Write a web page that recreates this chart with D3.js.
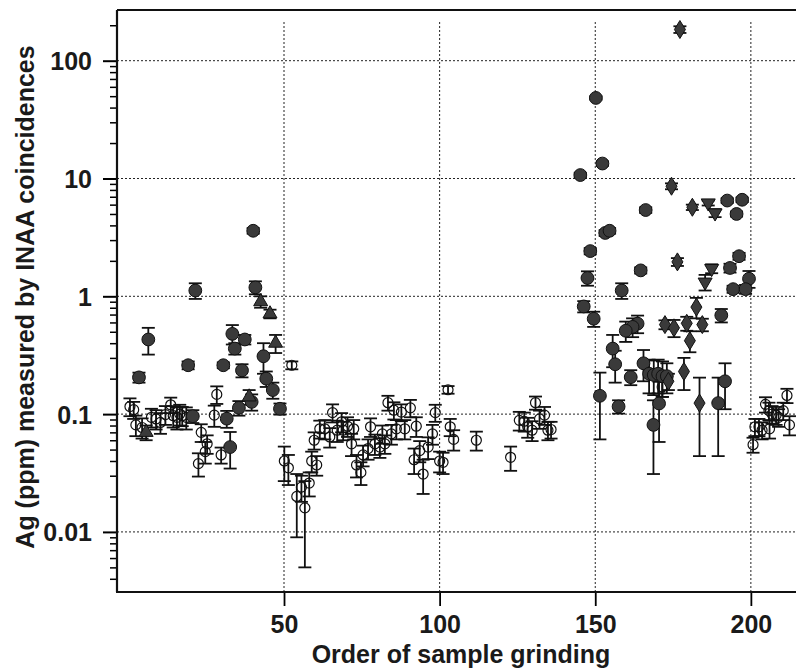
<!DOCTYPE html>
<html>
<head>
<meta charset="UTF-8">
<title>Ag measured by INAA coincidences</title>
<style>
  body { margin: 0; background: #fff; }
  svg text { font-family: "Liberation Sans", Arial, Helvetica, sans-serif; font-weight: bold; fill: #1a1a1a; }
  .grid line { stroke: #222; stroke-width: 1; stroke-dasharray: 2,2; }
  .frame line { stroke: #111; stroke-width: 2.2; }
  .bars line { stroke: #111; stroke-width: 1.8; }
</style>
</head>
<body>
<svg width="796" height="669"></svg>
<script src="https://d3js.org/d3.v7.min.js"></script>
<script>

// each point: [order of grinding, Ag ppm, 1 sigma error ppm]
var openCircles = [
  [0.5, 0.116, 0.02], [1.7, 0.109, 0.018], [2.4, 0.081, 0.016], [4.4, 0.077, 0.015],
  [7.4, 0.094, 0.017], [8.9, 0.091, 0.017], [10.3, 0.085, 0.017], [11.9, 0.099, 0.018],
  [13.6, 0.12, 0.018], [14.4, 0.097, 0.02], [15.6, 0.094, 0.02], [16.5, 0.1, 0.02],
  [17.3, 0.097, 0.018], [18.6, 0.094, 0.02], [23.4, 0.07, 0.012], [25.3, 0.056, 0.01],
  [24.7, 0.048, 0.01], [22.5, 0.038, 0.0085], [28.4, 0.147, 0.025], [27.6, 0.098, 0.02],
  [29.8, 0.045, 0.007], [52.5, 0.26, 0.02], [102.7, 0.161, 0.012],
  [50.1, 0.040, 0.013], [51.4, 0.035, 0.01], [54.1, 0.020, 0.011], [55.6, 0.024, 0.006],
  [56.7, 0.016, 0.011], [58.1, 0.026, 0.006], [58.9, 0.040, 0.008], [60.5, 0.037, 0.007],
  [59.7, 0.060, 0.01], [61.5, 0.075, 0.013], [63.1, 0.075, 0.014], [65.6, 0.103, 0.018],
  [64.7, 0.064, 0.012], [67.1, 0.073, 0.015], [68.5, 0.086, 0.016], [69.0, 0.073, 0.013],
  [70.4, 0.079, 0.015], [71.7, 0.056, 0.012], [72.4, 0.075, 0.014], [73.3, 0.037, 0.008],
  [74.7, 0.032, 0.007], [75.4, 0.045, 0.009], [77.0, 0.051, 0.01], [77.8, 0.078, 0.014],
  [79.2, 0.056, 0.011], [80.8, 0.0525, 0.01], [81.6, 0.068, 0.012], [82.4, 0.056, 0.01],
  [83.4, 0.125, 0.018], [84.5, 0.068, 0.013], [85.3, 0.108, 0.018], [86.1, 0.075, 0.014],
  [87.7, 0.104, 0.017], [88.8, 0.075, 0.014], [90.6, 0.113, 0.019], [92.5, 0.079, 0.015],
  [91.8, 0.041, 0.01], [93.6, 0.049, 0.01], [94.7, 0.031, 0.01], [96.3, 0.0525, 0.011],
  [97.7, 0.068, 0.013], [98.6, 0.103, 0.017], [100.0, 0.040, 0.008], [101.1, 0.039, 0.008],
  [103.4, 0.078, 0.013], [104.5, 0.061, 0.012], [111.8, 0.06, 0.011], [122.8, 0.043, 0.01],
  [125.6, 0.0885, 0.016], [127.2, 0.087, 0.016], [128.3, 0.078, 0.015], [129.7, 0.073, 0.014],
  [130.8, 0.125, 0.016], [132.1, 0.091, 0.016], [133.7, 0.098, 0.017], [134.8, 0.073, 0.013],
  [135.8, 0.074, 0.012], [171.5, 0.17, 0.03],
  [200.7, 0.055, 0.008], [201.3, 0.078, 0.013], [202.6, 0.078, 0.013], [203.6, 0.073, 0.012],
  [204.7, 0.121, 0.018], [205.8, 0.107, 0.018], [206.0, 0.075, 0.013], [206.8, 0.1, 0.017],
  [208.1, 0.098, 0.017], [208.9, 0.094, 0.016], [210.4, 0.107, 0.018], [211.6, 0.144, 0.02],
  [212.4, 0.081, 0.015]
];

var filledCircles = [
  [3.4, 0.205, 0.02], [6.4, 0.43, 0.11], [19.2, 0.26, 0.02], [21.5, 1.12, 0.17],
  [30.5, 0.26, 0.015], [33.4, 0.48, 0.09], [34.2, 0.36, 0.04], [37.4, 0.43, 0.04],
  [36.5, 0.235, 0.03], [40.1, 3.6, 0.2], [40.8, 1.19, 0.15], [43.4, 0.31, 0.09],
  [44.3, 0.2, 0.03], [46.4, 0.16, 0.025], [48.7, 0.111, 0.012], [39.6, 0.127, 0.02],
  [35.5, 0.113, 0.016], [31.6, 0.0915, 0.015], [32.7, 0.0525, 0.018], [20.7, 0.096, 0.012],
  [145.2, 10.7, 0.5], [150.2, 48.3, 1.5], [152.3, 13.4, 0.6], [153.2, 3.45, 0.2],
  [154.6, 3.6, 0.2], [148.4, 2.42, 0.15], [147.5, 1.43, 0.2], [146.3, 0.82, 0.09],
  [149.5, 0.645, 0.095], [158.5, 1.12, 0.17], [164.6, 1.66, 0.1], [166.2, 5.4, 0.3],
  [192.4, 6.5, 0.3], [197.2, 6.6, 0.3], [195.4, 5.0, 0.25], [196.2, 2.19, 0.15],
  [193.3, 1.74, 0.15], [199.4, 1.41, 0.23], [194.3, 1.15, 0.08], [198.3, 1.15, 0.1],
  [190.5, 0.69, 0.09], [163.6, 0.586, 0.1], [162.0, 0.55, 0.1], [159.8, 0.51, 0.1],
  [155.6, 0.36, 0.11], [156.4, 0.265, 0.08], [165.5, 0.27, 0.08], [161.4, 0.206, 0.03],
  [167.3, 0.22, 0.07], [168.8, 0.215, 0.07], [170.2, 0.22, 0.07], [171.6, 0.21, 0.07],
  [173.0, 0.21, 0.06], [151.5, 0.143, 0.082], [157.5, 0.116, 0.015], [170.5, 0.123, 0.065],
  [168.7, 0.081, 0.05], [189.5, 0.124, 0.08], [191.7, 0.19, 0.08]
];

var upTriangles = [
  [5.7, 0.07, 0.01], [38.8, 0.14, 0.02], [42.5, 0.9, 0.1], [45.5, 0.71, 0.06], [47.3, 0.40, 0.07]
];

var downTriangles = [
  [186.3, 6.2, 0.3], [188.5, 5.1, 0.4], [187.4, 1.72, 0.15], [185.3, 1.32, 0.2]
];

var diamonds = [
  [177.2, 184, 12], [174.5, 8.6, 0.5], [181.2, 5.7, 0.3], [176.4, 1.96, 0.15],
  [182.5, 0.81, 0.16], [172.4, 0.575, 0.05], [175.3, 0.54, 0.09], [179.4, 0.59, 0.08],
  [184.4, 0.575, 0.07], [180.4, 0.42, 0.085], [178.5, 0.23, 0.07], [183.5, 0.124, 0.08],
  [173.5, 0.19, 0.03]
];

var xTicks = [50, 100, 150, 200];
var yTicks = [0.01, 0.1, 1, 10, 100];
var yTickLabels = ["0.01", "0.1", "1", "10", "100"];

var svg = d3.select("svg"),
    plotLeft = 117, plotRight = 796, plotTop = 10, plotBottom = 592;

var x = d3.scaleLinear().domain([-3.66, 214.5]).range([plotLeft, plotRight]);
var y = d3.scaleLog().domain([0.00309, 269.4]).range([plotBottom, plotTop]);

// minor log ticks 2..9 per decade
var minor = [];
[0.001, 0.01, 0.1, 1, 10, 100].forEach(function(d) {
    for (var k = 2; k <= 9; k++) {
        var v = d * k;
        if (v > y.domain()[0] && v < y.domain()[1]) minor.push(v);
    }
});

// grid
var grid = svg.append("g").attr("class", "grid");
grid.selectAll(".h").data(yTicks).enter().append("line")
    .attr("x1", plotLeft).attr("x2", plotRight)
    .attr("y1", function(d) { return y(d); }).attr("y2", function(d) { return y(d); });
grid.selectAll(".v").data(xTicks).enter().append("line")
    .attr("y1", 22).attr("y2", plotBottom)
    .attr("x1", function(d) { return x(d); }).attr("x2", function(d) { return x(d); });

// axes
var yAxis = svg.append("g")
    .attr("transform", "translate(" + plotLeft + ",0)")
    .call(d3.axisLeft(y).tickValues(yTicks).tickSize(14).tickPadding(11)
        .tickFormat(function(d, i) { return yTickLabels[i]; }));
yAxis.select(".domain").remove();
yAxis.selectAll("text").attr("font-size", 25).attr("dy", "0.36em");
yAxis.selectAll("line").attr("stroke-width", 2);

var yMinor = svg.append("g")
    .attr("transform", "translate(" + plotLeft + ",0)")
    .call(d3.axisLeft(y).tickValues(minor).tickSize(7).tickFormat(""));
yMinor.select(".domain").remove();
yMinor.selectAll("line").attr("stroke-width", 1.5);

var xAxis = svg.append("g")
    .attr("transform", "translate(0," + plotBottom + ")")
    .call(d3.axisBottom(x).tickValues(xTicks).tickSize(14).tickPadding(9));
xAxis.select(".domain").remove();
xAxis.selectAll("text").attr("font-size", 25);
xAxis.selectAll("line").attr("stroke-width", 1.8);

// frame
var frame = svg.append("g").attr("class", "frame");
frame.append("line").attr("x1", plotLeft).attr("x2", plotRight).attr("y1", plotTop).attr("y2", plotTop);
frame.append("line").attr("x1", plotLeft).attr("x2", plotLeft).attr("y1", plotTop).attr("y2", plotBottom);
frame.append("line").attr("x1", plotLeft - 1).attr("x2", plotRight).attr("y1", plotBottom).attr("y2", plotBottom);

// titles
svg.append("text")
    .attr("x", 461).attr("y", 663)
    .attr("text-anchor", "middle").attr("font-size", 25)
    .text("Order of sample grinding");
svg.append("text")
    .attr("transform", "translate(34,297) rotate(-90)")
    .attr("text-anchor", "middle").attr("font-size", 25)
    .text("Ag (ppm) measured by INAA coincidences");

var series = [
    { data: openCircles, kind: "open" },
    { data: filledCircles, kind: "filled" },
    { data: upTriangles, kind: "up" },
    { data: downTriangles, kind: "down" },
    { data: diamonds, kind: "diamond" }
];

var capHalf = 6.5;
var ymin = y.domain()[0];

// error bars
var bars = svg.append("g").attr("class", "bars");
series.forEach(function(s) {
    var g = bars.selectAll(null).data(s.data).enter().append("g");
    g.append("line")
        .attr("x1", function(d) { return x(d[0]); }).attr("x2", function(d) { return x(d[0]); })
        .attr("y1", function(d) { return y(Math.max(d[1] - d[2], ymin)); })
        .attr("y2", function(d) { return y(d[1] + d[2]); });
    g.append("line")
        .attr("x1", function(d) { return x(d[0]) - capHalf; }).attr("x2", function(d) { return x(d[0]) + capHalf; })
        .attr("y1", function(d) { return y(d[1] + d[2]); }).attr("y2", function(d) { return y(d[1] + d[2]); });
    g.append("line")
        .attr("x1", function(d) { return x(d[0]) - capHalf; }).attr("x2", function(d) { return x(d[0]) + capHalf; })
        .attr("y1", function(d) { return y(Math.max(d[1] - d[2], ymin)); })
        .attr("y2", function(d) { return y(Math.max(d[1] - d[2], ymin)); });
});

// markers
var ink = "#111", fillGray = "#3a3a3a";
var tri = d3.symbol().type(d3.symbolTriangle).size(85)();
var diamondPath = "M0,-9L5.5,0L0,9L-5.5,0Z";

var marks = svg.append("g");
series.forEach(function(s) {
    var sel = marks.selectAll(null).data(s.data).enter();
    if (s.kind === "open") {
        sel.append("circle")
            .attr("cx", function(d) { return x(d[0]); }).attr("cy", function(d) { return y(d[1]); })
            .attr("r", 5).attr("fill", "none").attr("stroke", ink).attr("stroke-width", 1.2);
    } else if (s.kind === "filled") {
        sel.append("circle")
            .attr("cx", function(d) { return x(d[0]); }).attr("cy", function(d) { return y(d[1]); })
            .attr("r", 6.4).attr("fill", fillGray).attr("stroke", ink).attr("stroke-width", 1);
    } else {
        sel.append("path")
            .attr("d", s.kind === "diamond" ? diamondPath : tri)
            .attr("transform", function(d) {
                return "translate(" + x(d[0]) + "," + y(d[1]) + ")" + (s.kind === "down" ? " rotate(180)" : "");
            })
            .attr("fill", fillGray).attr("stroke", ink).attr("stroke-width", 1);
    }
});

</script>
</body>
</html>
